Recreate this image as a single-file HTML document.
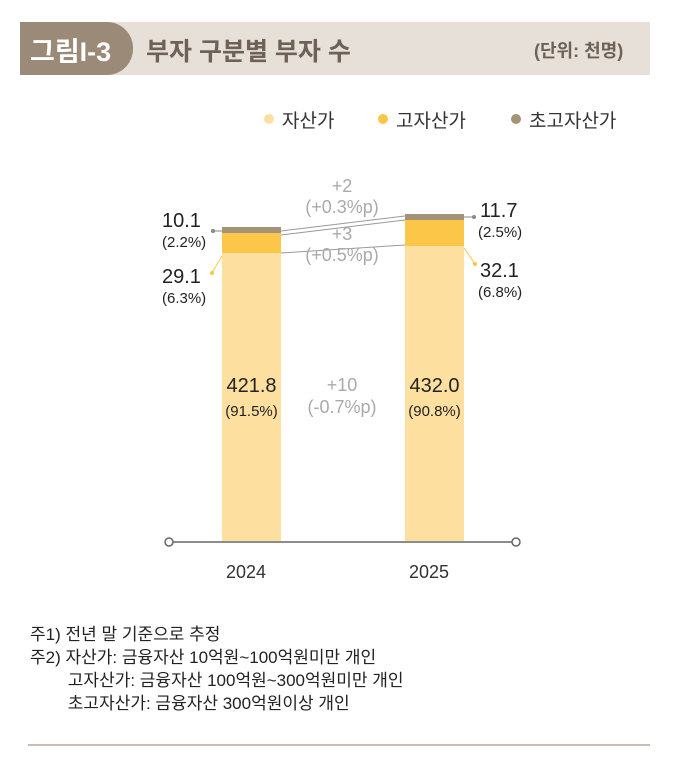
<!DOCTYPE html>
<html><head><meta charset="utf-8"><style>
body{margin:0;background:#fff;width:673px;height:760px;overflow:hidden;font-family:"Liberation Sans","Noto Sans CJK KR",sans-serif;}
.t{position:absolute;white-space:nowrap;}
</style></head><body>
<div style="position:absolute;left:20px;top:22px;width:630px;height:53px;background:#e6e0d8;"></div>
<div style="position:absolute;left:20px;top:22px;width:113px;height:53px;background:#9c8a78;border-radius:0 26px 26px 0;"></div>
<div class="t" style="left:30px;top:30px;font-size:27px;color:#fff;font-weight:bold;">그림I-3</div>
<div class="t" style="left:146px;top:32px;font-size:25px;color:#6e6258;font-weight:bold;">부자 구분별 부자 수</div>
<div class="t" style="left:534px;top:37px;font-size:18px;color:#6e6258;font-weight:bold;">(단위: 천명)</div>

<div style="position:absolute;left:264px;top:114px;width:10px;height:10px;border-radius:50%;background:#fde0a0"></div>
<div class="t" style="left:282px;top:106px;font-size:19px;color:#333">자산가</div>
<div style="position:absolute;left:378px;top:114px;width:10px;height:10px;border-radius:50%;background:#fcc748"></div>
<div class="t" style="left:396px;top:106px;font-size:19px;color:#333">고자산가</div>
<div style="position:absolute;left:511px;top:114px;width:10px;height:10px;border-radius:50%;background:#a39478"></div>
<div class="t" style="left:529px;top:106px;font-size:19px;color:#333">초고자산가</div>

<svg style="position:absolute;left:0;top:0" width="673" height="760">
<rect x="222" y="227" width="59" height="6" fill="#a39478"/>
<rect x="222" y="233" width="59" height="20" fill="#fcc748"/>
<rect x="222" y="253" width="59" height="288" fill="#fde0a0"/>
<rect x="405" y="214" width="59" height="6" fill="#a39478"/>
<rect x="405" y="220" width="59" height="26" fill="#fcc748"/>
<rect x="405" y="246" width="59" height="295" fill="#fde0a0"/>
<line x1="281" y1="231" x2="405" y2="216" stroke="#999" stroke-width="1"/>
<line x1="281" y1="235" x2="405" y2="220" stroke="#999" stroke-width="1"/>
<line x1="281" y1="253" x2="405" y2="245" stroke="#999" stroke-width="1"/>
<line x1="213" y1="231" x2="222" y2="231" stroke="#888"/><circle cx="213" cy="231" r="2" fill="#888"/>
<line x1="464" y1="217" x2="474" y2="217" stroke="#888"/><circle cx="474" cy="217" r="2" fill="#888"/>
<line x1="212" y1="273" x2="222" y2="256" stroke="#fcc748"/><circle cx="212" cy="273" r="2" fill="#fcc748"/>
<line x1="464" y1="248" x2="475" y2="264" stroke="#fcc748"/><circle cx="475" cy="264" r="2" fill="#fcc748"/>
<line x1="172" y1="542" x2="513" y2="542" stroke="#666" stroke-width="1.5"/>
<circle cx="169" cy="542" r="4" fill="#fff" stroke="#666" stroke-width="1.5"/>
<circle cx="516" cy="542" r="4" fill="#fff" stroke="#666" stroke-width="1.5"/>
<line x1="28" y1="745" x2="650" y2="745" stroke="#c8c0b6" stroke-width="2"/>
</svg>

<div class="t" style="left:162px;top:210px;font-size:20px;color:#222">10.1</div>
<div class="t" style="left:162px;top:234px;font-size:15px;color:#222">(2.2%)</div>
<div class="t" style="left:162px;top:266px;font-size:20px;color:#222">29.1</div>
<div class="t" style="left:162px;top:290px;font-size:15px;color:#222">(6.3%)</div>
<div class="t" style="left:480px;top:200px;font-size:20px;color:#222">11.7</div>
<div class="t" style="left:478px;top:224px;font-size:15px;color:#222">(2.5%)</div>
<div class="t" style="left:480px;top:260px;font-size:20px;color:#222">32.1</div>
<div class="t" style="left:478px;top:284px;font-size:15px;color:#222">(6.8%)</div>
<div class="t" style="left:302px;top:176px;width:80px;text-align:center;font-size:18px;color:#aaa;line-height:21px">+2<br>(+0.3%p)</div>
<div class="t" style="left:302px;top:224px;width:80px;text-align:center;font-size:18px;color:#aaa;line-height:21px">+3<br>(+0.5%p)</div>
<div class="t" style="left:300px;top:374px;width:84px;text-align:center;font-size:18px;color:#aaa;line-height:22px">+10<br>(-0.7%p)</div>
<div class="t" style="left:218px;top:374px;width:67px;text-align:center;font-size:20px;color:#222;line-height:24px">421.8<br><span style="font-size:15px">(91.5%)</span></div>
<div class="t" style="left:401px;top:374px;width:67px;text-align:center;font-size:20px;color:#222;line-height:24px">432.0<br><span style="font-size:15px">(90.8%)</span></div>
<div class="t" style="left:226px;top:562px;font-size:18px;color:#333">2024</div>
<div class="t" style="left:409px;top:562px;font-size:18px;color:#333">2025</div>

<div class="t" style="left:30px;top:623px;font-size:17px;color:#222;line-height:23px">주1) 전년 말 기준으로 추정<br>주2) 자산가: 금융자산 10억원~100억원미만 개인<br>&nbsp;&nbsp;&nbsp;&nbsp;&nbsp;&nbsp;&nbsp;&nbsp;고자산가: 금융자산 100억원~300억원미만 개인<br>&nbsp;&nbsp;&nbsp;&nbsp;&nbsp;&nbsp;&nbsp;&nbsp;초고자산가: 금융자산 300억원이상 개인</div>
</body></html>
